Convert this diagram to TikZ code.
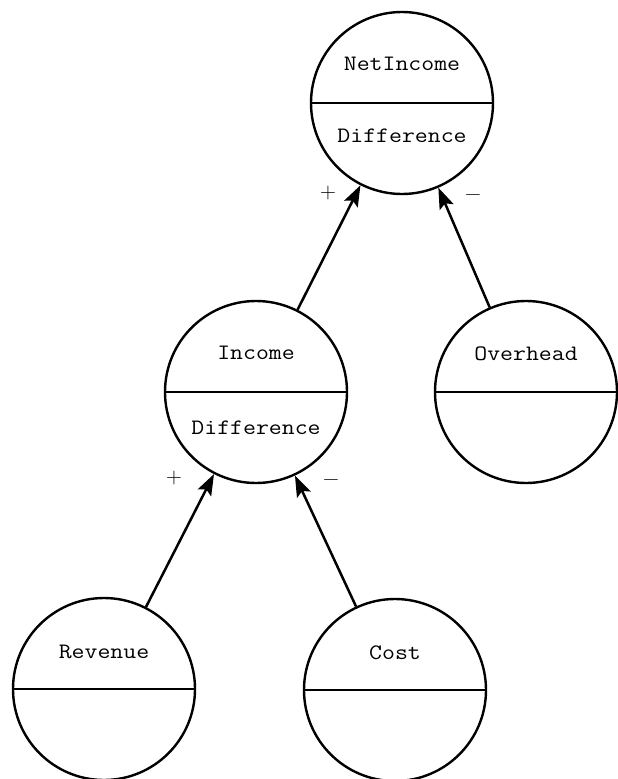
\documentclass[tikz,border=0pt]{standalone}
\usepackage{fontspec}
\setmonofont[FakeStretch=1.14]{Latin Modern Mono}
\usetikzlibrary{arrows.meta}
\begin{document}
\begin{tikzpicture}[x=1pt,y=-1pt,
  entity/.style={circle, draw, line width=2.4pt, minimum size=182pt, inner sep=0pt},
  divider/.style={line width=2.8pt},
  lbl/.style={font=\ttfamily\fontsize{22}{24}\selectfont, anchor=base, inner sep=0pt},
  sign/.style={font=\rmfamily\fontsize{22}{24}\selectfont, inner sep=0pt},
  link/.style={line width=2.5pt, -{Stealth[length=21pt,width=15pt,inset=4pt]}}]
\useasboundingbox (0,0) rectangle (618,779);
% entities
\node[entity] (net) at (402,103) {};
\node[entity] (income) at (256,392) {};
\node[entity] (overhead) at (526,392) {};
\node[entity] (revenue) at (104,689) {};
\node[entity] (cost) at (395,690) {};
% dividers
\draw[divider] (net.west) -- (net.east);
\draw[divider] (income.west) -- (income.east);
\draw[divider] (overhead.west) -- (overhead.east);
\draw[divider] (revenue.west) -- (revenue.east);
\draw[divider] (cost.west) -- (cost.east);
% texts
\node[lbl] (netname) at (402,70) {NetIncome};
\node[lbl] (netop) at (402,142) {Difference};
\node[lbl] (incname) at (256,359) {Income};
\node[lbl] (incop) at (256,434) {Difference};
\node[lbl] (ovhname) at (526,360) {Overhead};
\node[lbl] (revname) at (104,658) {Revenue};
\node[lbl] (costname) at (395,659) {Cost};
% connectors
\draw[link] (income) -- (net);
\draw[link] (overhead) -- (net);
\draw[link] (revenue) -- (income);
\draw[link] (cost) -- (income);
% signs
\node[sign] (s1) at (328,193) {+};
\node[sign] (s2) at (473,198) {\char"2212};
\node[sign] (s3) at (174,478) {+};
\node[sign] (s4) at (331,483) {\char"2212};
\end{tikzpicture}
\end{document}
